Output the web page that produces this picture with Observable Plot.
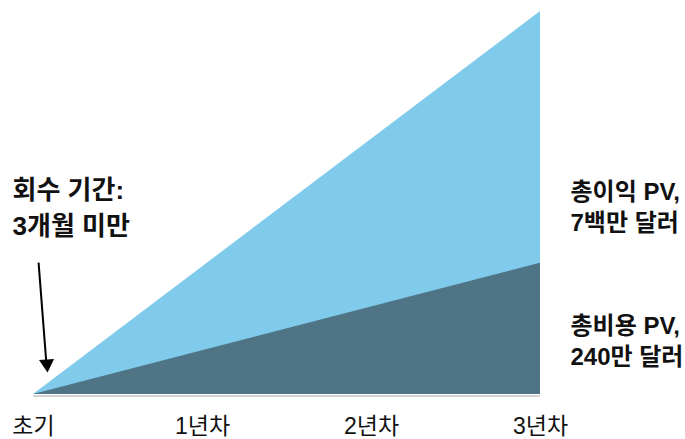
<!DOCTYPE html>
<html><head><meta charset="utf-8">
<script src="https://cdn.jsdelivr.net/npm/d3@7"></script>
<script src="https://cdn.jsdelivr.net/npm/@observablehq/plot@0.6"></script>
<style>
html,body{margin:0;padding:0;background:#fff;}
svg{font-family:"Liberation Sans","Noto Sans CJK KR",sans-serif;}
</style></head>
<body><div id="chart"></div>
<script>
const years = [0, 3];
const benefit = [0, 7];     // 총이익 PV (백만 달러)
const cost = [0, 2.4];      // 총비용 PV (백만 달러)
const tickValues = [0, 1, 2, 3];
const tickLabels = ["초기", "1년차", "2년차", "3년차"];

const benefitLabel = ["총이익 PV,", "7백만 달러"];
const costLabel = ["총비용 PV,", "240만 달러"];
const paybackLabel = ["회수 기간:", "3개월 미만"];
const benefitLabelY = 3.45;
const costLabelY = 1.0;
const paybackLabelPos = [0, 3.45];
const arrowFrom = [0.03, 2.41];
const arrowTo = [0.075, 0.62];
const arrowHead = [0.079, 0.56];

const benefitData = years.map((x, i) => ({x, y: benefit[i]}));
const costData = years.map((x, i) => ({x, y: cost[i]}));

const chart = Plot.plot({
  width: 685, height: 439,
  marginLeft: 33, marginRight: 145, marginTop: 11, marginBottom: 45,
  x: {domain: [0, 3], axis: null, label: null},
  y: {domain: [0, 7], axis: null, label: null},
  marks: [
    Plot.ruleY([0], {x1: 0, x2: 3, stroke: "#d4d4d4", strokeWidth: 2, dy: 1.5}),
    Plot.areaY(benefitData, {x: "x", y: "y", fill: "#80CBEB"}),
    Plot.areaY(costData, {x: "x", y: "y", fill: "#4E7485"}),
    Plot.axisX(tickValues, {tickSize: 0, tickPadding: 23, fontSize: 23, fill: "#111", label: null,
      tickFormat: (d) => tickLabels[tickValues.indexOf(d)]}),
    Plot.text([benefitLabel.join("\n")], {x: 3, y: benefitLabelY, dx: 30, textAnchor: "start",
      lineAnchor: "middle", fontSize: 24, fontWeight: "bold", lineHeight: 1.3, fill: "#111"}),
    Plot.text([costLabel.join("\n")], {x: 3, y: costLabelY, dx: 30, textAnchor: "start",
      lineAnchor: "middle", fontSize: 24, fontWeight: "bold", lineHeight: 1.3, fill: "#111"}),
    Plot.text([paybackLabel.join("\n")], {x: paybackLabelPos[0], y: paybackLabelPos[1], dx: -21,
      textAnchor: "start", lineAnchor: "middle", fontSize: 26, fontWeight: "bold", lineHeight: 1.35, fill: "#111"}),
    Plot.link([0], {x1: arrowFrom[0], y1: arrowFrom[1], x2: arrowTo[0], y2: arrowTo[1],
      stroke: "#000", strokeWidth: 2}),
    Plot.dot([0], {x: arrowHead[0], y: arrowHead[1], symbol: "triangle", r: 5.6,
      fill: "#000", stroke: "none", rotate: 175.4})
  ]
});
document.getElementById("chart").appendChild(chart);
</script></body></html>
